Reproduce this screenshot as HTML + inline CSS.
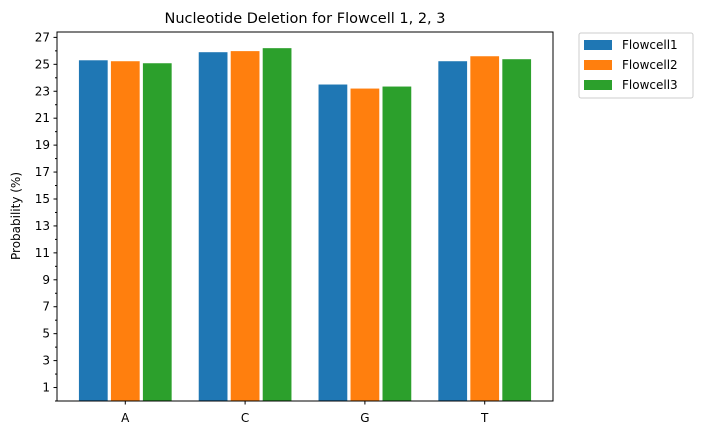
<!DOCTYPE html>
<html><head><meta charset="utf-8"><style>
body{margin:0;background:#fff;font-family:"Liberation Sans","DejaVu Sans",sans-serif}
</style></head><body>
<svg id="chart" width="702" height="435" xmlns="http://www.w3.org/2000/svg" font-family="DejaVu Sans, Liberation Sans, sans-serif">
<text x="305" y="23" font-size="14.5" text-anchor="middle">Nucleotide Deletion for Flowcell 1, 2, 3</text>
<text transform="translate(20,216) rotate(-90)" font-size="12" text-anchor="middle">Probability (%)</text>
<g id="bars"></g><g id="axes"></g>
<g>
<rect x="579" y="33" width="114" height="65" fill="#fff" stroke="#ccc" rx="2"/>
<g><rect x="584" y="40" width="28" height="10" fill="#1f77b4"/><text x="622" y="49" font-size="12">Flowcell1</text></g>
<g><rect x="584" y="60" width="28" height="10" fill="#ff7f0e"/><text x="622" y="69" font-size="12">Flowcell2</text></g>
<g><rect x="584" y="80" width="28" height="10" fill="#2ca02c"/><text x="622" y="89" font-size="12">Flowcell3</text></g>
</g>
</svg>
<script>
const categories=["A","C","G","T"];
const flowcell1=[25.3,25.9,23.5,25.23];
const flowcell2=[25.23,25.98,23.2,25.6];
const flowcell3=[25.08,26.2,23.35,25.38];
const yTicks=[1,3,5,7,9,11,13,15,17,19,21,23,25,27];
const NS="http://www.w3.org/2000/svg";
const L=57,R=553,T=32,B=401;
const xmin=-0.57,xmax=3.57,ymax=27.4;
const xs=v=>L+(v-xmin)/(xmax-xmin)*(R-L);
const ys=v=>B-v/ymax*(B-T);
function mk(tag,attrs,parent){const e=document.createElementNS(NS,tag);for(const k in attrs)e.setAttribute(k,attrs[k]);parent.appendChild(e);return e;}
const bars=document.getElementById('bars'),axes=document.getElementById('axes');
const series=[flowcell1,flowcell2,flowcell3],colors=["#1f77b4","#ff7f0e","#2ca02c"];
const bw=0.24,off=0.267;
series.forEach((s,si)=>s.forEach((v,i)=>{
 const c=i+(si-1)*off;
 const r=mk('rect',{x:xs(c-bw/2),y:ys(v),width:xs(c+bw/2)-xs(c-bw/2),height:ys(0)-ys(v),fill:colors[si]},bars);
 
 
}));
const fr=mk('rect',{x:L,y:T,width:R-L,height:B-T,fill:'none',stroke:'#000','stroke-width':1},axes);


for(let v=0;v<=27;v++){mk('line',{x1:L-(v%2?3.5:2),x2:L,y1:ys(v),y2:ys(v),stroke:'#000'},axes);}
yTicks.forEach(v=>{const t=mk('text',{x:L-7,y:ys(v)+4,'font-size':12,'text-anchor':'end'},axes);t.textContent=v;
 
 });
categories.forEach((c,i)=>{mk('line',{x1:xs(i),x2:xs(i),y1:B,y2:B+3.5,stroke:'#000'},axes);
 const t=mk('text',{x:xs(i),y:B+21,'font-size':12,'text-anchor':'middle'},axes);t.textContent=c;
 
 });
</script>
</body></html>
